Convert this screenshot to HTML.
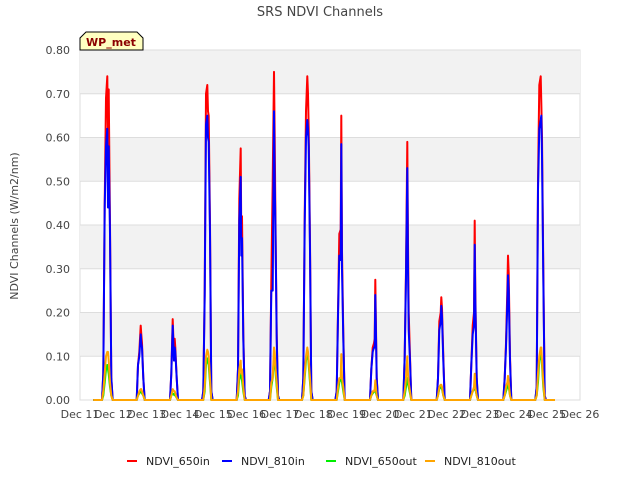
<!DOCTYPE html>
<html><head><meta charset="utf-8"><style>
body{margin:0;background:#fff;font-family:"Liberation Sans","DejaVu Sans",sans-serif;}
</style></head><body>
<svg width="640" height="480" xmlns="http://www.w3.org/2000/svg" id="svg" font-family="DejaVu Sans, Liberation Sans, sans-serif">
<text x="320" y="16" text-anchor="middle" font-size="13" fill="#444">SRS NDVI Channels</text>
<g id="bands"></g>
<g id="grid"></g>
<g id="series"></g>
<g id="axes"></g>
<text transform="translate(18,226) rotate(-90)" text-anchor="middle" font-size="11" fill="#444">NDVI Channels (W/m2/nm)</text>
<g>
<path d="M80,50 L80,38 L86,32 L137,32 L143,38 L143,50 Z" fill="#ffffc0" stroke="#000" stroke-width="1"/>
<text x="111" y="46" text-anchor="middle" font-size="11" font-weight="bold" fill="#8b0000">WP_met</text>
</g>
<g id="legend"></g>
</svg>
<script>
const NS="http://www.w3.org/2000/svg";
const dayLabels=["Dec 11","Dec 12","Dec 13","Dec 14","Dec 15","Dec 16","Dec 17","Dec 18","Dec 19","Dec 20","Dec 21","Dec 22","Dec 23","Dec 24","Dec 25","Dec 26"];
const yTicks=[0,0.1,0.2,0.3,0.4,0.5,0.6,0.7,0.8];
const offsets=[0.66,0.70,0.74,0.78,0.82,0.84,0.86,0.90,0.94,0.98];
const red650in=[
[0,0.06,0.45,0.69,0.74,0.60,0.71,0.40,0.05,0],
[0,0,0.08,0.11,0.17,0.15,0.13,0.05,0,0],
[0,0,0.06,0.185,0.10,0.14,0.12,0.05,0,0],
[0,0.02,0.25,0.70,0.72,0.66,0.65,0.40,0.02,0],
[0,0,0.07,0.46,0.575,0.37,0.42,0.15,0.01,0],
[0,0.02,0.27,0.50,0.75,0.60,0.45,0.15,0.01,0],
[0,0.05,0.42,0.66,0.74,0.70,0.62,0.36,0.02,0],
[0,0.02,0.20,0.38,0.39,0.65,0.34,0.15,0,0],
[0,0,0.07,0.12,0.13,0.14,0.275,0.05,0,0],
[0,0,0.10,0.30,0.59,0.36,0.20,0.10,0,0],
[0,0,0.05,0.18,0.20,0.235,0.21,0.10,0,0],
[0,0,0.08,0.17,0.20,0.41,0.25,0.05,0,0],
[0,0,0.05,0.13,0.25,0.33,0.29,0.10,0,0],
[0,0.03,0.50,0.72,0.74,0.68,0.60,0.30,0.01,0]];
const blue810in=[
[0,0.06,0.44,0.58,0.62,0.44,0.58,0.38,0.05,0],
[0,0,0.08,0.10,0.15,0.13,0.12,0.05,0,0],
[0,0,0.06,0.17,0.09,0.12,0.11,0.05,0,0],
[0,0.02,0.24,0.63,0.65,0.60,0.59,0.38,0.02,0],
[0,0,0.07,0.41,0.51,0.33,0.37,0.14,0.01,0],
[0,0.02,0.25,0.25,0.66,0.50,0.42,0.14,0.01,0],
[0,0.05,0.40,0.60,0.64,0.62,0.58,0.34,0.02,0],
[0,0.02,0.19,0.33,0.32,0.585,0.30,0.14,0,0],
[0,0,0.07,0.11,0.12,0.12,0.24,0.05,0,0],
[0,0,0.10,0.28,0.53,0.30,0.16,0.09,0,0],
[0,0,0.05,0.16,0.18,0.215,0.19,0.09,0,0],
[0,0,0.08,0.15,0.17,0.355,0.23,0.05,0,0],
[0,0,0.05,0.12,0.22,0.285,0.25,0.09,0,0],
[0,0.03,0.48,0.62,0.64,0.65,0.56,0.28,0.01,0]];
const green650out=[
[0,0.01,0.04,0.07,0.08,0.07,0.06,0.03,0.01,0],
[0,0,0.01,0.015,0.02,0.02,0.015,0.01,0,0],
[0,0,0.01,0.015,0.012,0.015,0.01,0.005,0,0],
[0,0,0.02,0.08,0.095,0.09,0.08,0.04,0,0],
[0,0,0.01,0.05,0.06,0.05,0.045,0.02,0,0],
[0,0,0.03,0.05,0.10,0.09,0.07,0.03,0,0],
[0,0.01,0.05,0.09,0.105,0.10,0.08,0.04,0,0],
[0,0,0.02,0.04,0.05,0.05,0.04,0.02,0,0],
[0,0,0.01,0.015,0.02,0.02,0.02,0.01,0,0],
[0,0,0.01,0.03,0.05,0.04,0.03,0.015,0,0],
[0,0,0.01,0.025,0.03,0.03,0.025,0.01,0,0],
[0,0,0.01,0.02,0.025,0.03,0.025,0.01,0,0],
[0,0,0.01,0.02,0.03,0.035,0.03,0.01,0,0],
[0,0.01,0.04,0.09,0.105,0.10,0.08,0.03,0,0]];
const orange810out=[
[0,0.02,0.06,0.10,0.11,0.11,0.09,0.04,0.01,0],
[0,0,0.01,0.02,0.025,0.025,0.02,0.01,0,0],
[0,0,0.01,0.025,0.02,0.02,0.015,0.005,0,0],
[0,0,0.03,0.10,0.115,0.11,0.10,0.05,0,0],
[0,0,0.02,0.07,0.09,0.06,0.07,0.03,0,0],
[0,0,0.04,0.05,0.12,0.11,0.08,0.04,0,0],
[0,0.01,0.06,0.10,0.12,0.11,0.09,0.05,0,0],
[0,0,0.03,0.05,0.05,0.105,0.05,0.03,0,0],
[0,0,0.01,0.02,0.02,0.025,0.045,0.01,0,0],
[0,0,0.02,0.05,0.10,0.06,0.04,0.02,0,0],
[0,0,0.01,0.03,0.035,0.035,0.03,0.01,0,0],
[0,0,0.01,0.02,0.03,0.06,0.03,0.01,0,0],
[0,0,0.01,0.03,0.04,0.055,0.04,0.01,0,0],
[0,0.01,0.06,0.10,0.12,0.12,0.09,0.04,0,0]];
const seriesNames=["NDVI_650in","NDVI_810in","NDVI_650out","NDVI_810out"];
const seriesColors=["#ff0000","#0000ff","#00ee00","#ffa500"];
const seriesData=[red650in,blue810in,green650out,orange810out];
const X0=80,X1=580,Y0=400,Y1=50;
const xs=d=>X0+(X1-X0)*d/15;
const ys=v=>Y0-(Y0-Y1)*v/0.8;
function mk(t,a,parent){const e=document.createElementNS(NS,t);for(const k in a)e.setAttribute(k,a[k]);parent.appendChild(e);return e;}
const bands=document.getElementById('bands'),grid=document.getElementById('grid'),ser=document.getElementById('series'),axes=document.getElementById('axes'),leg=document.getElementById('legend');
mk('rect',{x:X0,y:Y1,width:X1-X0,height:Y0-Y1,fill:'#fff',stroke:'#ddd'},bands);
for(let i=0;i<yTicks.length-1;i+=2){
 const b=mk('rect',{x:X0,y:ys(yTicks[i+2]||0.8),width:X1-X0,height:ys(yTicks[i+1])-ys(yTicks[i+2]||0.8),fill:'#f2f2f2'},bands);
 
 
}
yTicks.forEach(v=>{
 const l=mk('line',{x1:X0,x2:X1,y1:ys(v),y2:ys(v),stroke:'#ddd'},grid);
 
 
 const t=mk('text',{x:X0-10,y:ys(v)+4,'text-anchor':'end','font-size':11,fill:'#444'},axes);
 t.textContent=v.toFixed(2);
 
 
});
dayLabels.forEach((s,i)=>{
 const t=mk('text',{x:xs(i),y:Y0+18,'text-anchor':'middle','font-size':11,fill:'#444'},axes);
 t.textContent=s;
 
 
});
seriesData.forEach((data,si)=>{
 let pts=[[0.4,0]];
 data.forEach((day,d)=>day.forEach((v,j)=>pts.push([d+offsets[j],v])));
 pts.push([14.25,0]);
 const p=mk('polyline',{points:pts.map(q=>xs(q[0]).toFixed(1)+','+ys(q[1]).toFixed(1)).join(' '),fill:'none',stroke:seriesColors[si],'stroke-width':2,'stroke-linejoin':'round'},ser);
 
 
});
const legX=[127,222,326,425];
seriesNames.forEach((n,i)=>{
 const g=mk('g',{},leg);
 
 
 mk('line',{x1:legX[i],x2:legX[i]+10,y1:461,y2:461,stroke:seriesColors[i],'stroke-width':2},g);
 const t=mk('text',{x:legX[i]+19,y:465,'font-size':11,fill:'#222'},g);
 t.textContent=n;
});
</script>
</body></html>
